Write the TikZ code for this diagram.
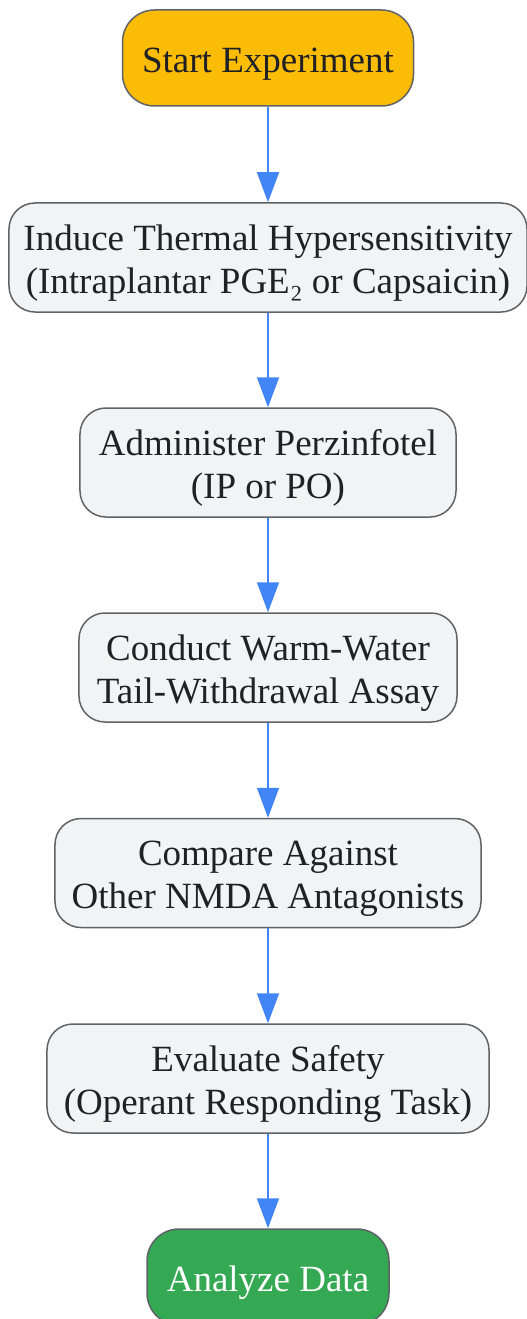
\documentclass[tikz,border=0pt]{standalone}
\usepackage{fontspec}
\setmainfont{Liberation Serif}
\usetikzlibrary{arrows.meta,positioning}
\definecolor{startfill}{HTML}{FBBC05}
\definecolor{endfill}{HTML}{34A853}
\definecolor{stepfill}{HTML}{F1F3F4}
\definecolor{edgegrey}{HTML}{5F6368}
\definecolor{textgrey}{HTML}{202124}
\definecolor{arrowblue}{HTML}{4285F4}
\tikzset{
    base/.style={draw=edgegrey,line width=1.5bp,align=center,inner sep=0pt,
        font=\fontsize{37bp}{43bp}\selectfont,text=textgrey},
    term/.style={base,rounded corners=32bp,minimum height=96bp,
        execute at begin node={\rule{0pt}{37bp}}},
    stepbox/.style={base,fill=stepfill,rounded corners=26bp,minimum height=109bp,
        execute at begin node={\rule{0pt}{79bp}}},
    flow/.style={-{Triangle[length=30bp,width=22bp]},color=arrowblue,line width=1.6bp},
}
\begin{document}
\begin{tikzpicture}[x=1bp,y=-1bp]
    \useasboundingbox (0,0) rectangle (527,1319);
    \node[term,fill=startfill,minimum width=291bp] (start) at (268,58) {Start Experiment};
    \node[stepbox,minimum width=518bp] (induce) at (268,257.5) {Induce Thermal Hypersensitivity\\(Intraplantar PGE₂ or Capsaicin)};
    \node[stepbox,minimum width=376bp] (admin) at (268,462.5) {Administer Perzinfotel\\(IP or PO)};
    \node[stepbox,minimum width=378bp] (tail) at (268,667.5) {Conduct Warm-Water\\Tail-Withdrawal Assay};
    \node[stepbox,minimum width=426bp] (compare) at (268,873) {Compare Against\\Other NMDA Antagonists};
    \node[stepbox,minimum width=442bp] (safety) at (268,1078.5) {Evaluate Safety\\(Operant Responding Task)};
    \node[term,fill=endfill,text=white,minimum width=242bp] (analyze) at (268,1277) {Analyze Data};
    \draw[flow] (start) -- (induce);
    \draw[flow] (induce) -- (admin);
    \draw[flow] (admin) -- (tail);
    \draw[flow] (tail) -- (compare);
    \draw[flow] (compare) -- (safety);
    \draw[flow] (safety) -- (analyze);
\end{tikzpicture}
\end{document}
